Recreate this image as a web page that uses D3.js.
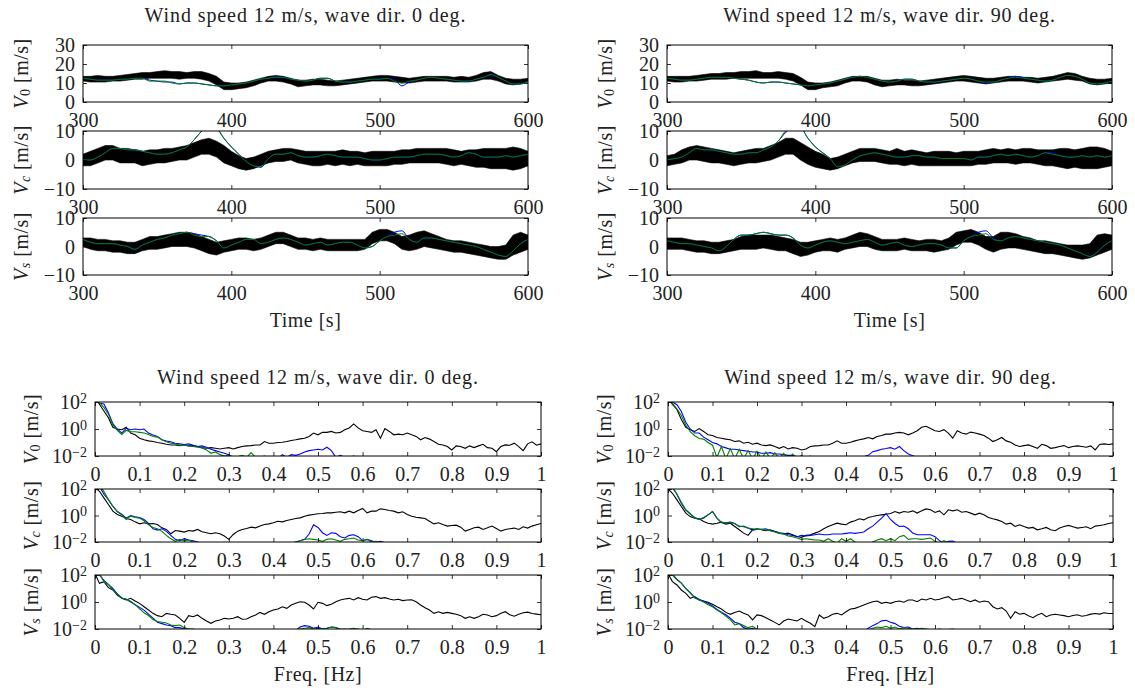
<!DOCTYPE html>
<html>
<head>
<meta charset="utf-8">
<script src="https://cdn.jsdelivr.net/npm/d3@7"></script>
<style>
  body { margin: 0; background: #fff; }
  svg text { font-family: "Liberation Serif", "DejaVu Serif", serif; fill: #222; }
</style>
</head>
<body>
<svg id="chart" width="1135" height="688"></svg>
<script>
// ---- data ----
// time series sampled every 5 s from 300 s to 600 s
const tStart = 300, tStep = 5;
const timeTicks = [300, 400, 500, 600];
const v0Ticks = [0, 10, 20, 30];
const vcTicks = [-10, 0, 10];

// wave dir 0 deg, V0 (black band = envelope of the measured signal)
const v0Dir0Lo = [11,10.5,10.5,10.5,11,11,11.5,12,12,12.5, 12.5,12.5,12.5,12,12.5,12.5,12,11,9,6.5, 6.5,7,7.5,8.5,10,11,11,10.5,9.5,8, 8.5,9,9,8.5,8.5,9,9.5,10,10.5,11, 11,11,10.5,10,10,10.5,11,11,11,11, 10.5,10.5,10.5,11,12,12,11,9.5,9,9.5, 10.5];
const v0Dir0Hi = [13.5,13.5,14,13.5,13.5,14,14.5,15,15.5,15.5, 16,16.5,16,16,15.5,16,16,15,13.5,10.5, 10,10,10.5,11.5,12.5,13.5,14,13.5,12.5,11.5, 11.5,12,12,11.5,11,11.5,12,12.5,13,13.5, 14,14,13.5,13,12.5,13,13.5,13.5,13.5,13.5, 13,13.5,13,14,15.5,16,14,12.5,12,12, 12.5];
const v0Dir0Blue = [12.5,12,11.5,11.5,11.5,12,12,12.5,12.5,11.5, 11,10.5,10.5,9.5,10,10,9.5,9,8.5,8.5, 9,9.5,10,11,12,12.5,13.5,13,12,11.5, 11,11.5,12.5,12.5,11,10.5,10.5,11,11.5,12, 12,12.5,11.5,8.5,10.5,11.5,12.5,13,12.5,12, 11.5,11,11,12,13,14,13,11,9.5,9.5, 11];
const v0Dir0Green = [12.5,12,11.5,11.5,11.5,12,12,12.5,12.5,11, 11,11,10,9.5,10,10,9.5,9,8.5,8.5, 9,9.5,10,11,12,12.5,13,13,12,11.5, 11,11.5,12.5,12.5,11,10.5,10.5,11,11.5,12, 12,12.5,11,10,11,11.5,12.5,13,12.5,12, 11.5,11,11,12,13,14.5,13,11,9.5,9.5, 11];

// wave dir 0 deg, Vc
const vcDir0Lo = [-2,-2,-1,0,0,-1,-1,-1,-2,-1.5, -1,-1,-0.5,0,0,1,2,2,1,-1, -2,-3,-3.5,-3,-2,-1,-0.5,-0.5,0,-1, -1.5,-2,-2,-1.5,-2,-1.5,-2,-1.5,-2,-2, -2,-2,-1.5,-1.5,-1,-1,-1,-1,-1,-1.5, -2,-1.5,-2,-2.5,-2.5,-3,-3,-3,-3.5,-3, -2];
const vcDir0Hi = [2,3,4,5,5,4,4,3.5,3,3.5, 3.5,4,4,4.5,5,6,7,7.5,6.5,5, 3,1.5,0.5,1,2,3,3.5,4,4,3.5, 3,3,3,3,3,3.5,3,3,2.5,3, 3,3,3,3.5,3.5,4,4,4,4,4, 3.5,3,3.5,3.5,4,4,4,4,4.5,4, 3];
const vcDir0Blue = [0,0,1,2.5,4,4,3.5,3.5,3,2.5, 2,2,2.5,3.5,4.5,7,10,12,11,7.5, 4.5,2,-0.5,-2,-2.5,0.5,2,2,2.5,1.5, 1,1,1.5,2,1.5,1,1,1,0.5,0, 0,0.5,1,1,1,1.5,2,2,2,1.5, 1,1.5,2.5,2,1,1,1,1.5,1,1.5, 2];
const vcDir0Green = [0,0,1,2.5,4,4,3.5,3.5,3,2.5, 2,2,2.5,3.5,4.5,7,10,12,11,7.5, 4.5,2,-0.5,-2,-2.3,0.5,2,2,2.5,1.5, 1,1,1.5,2,1.5,1,1,1,0.5,0, 0,0.5,1,1,1,1.5,2,2,2,1.5, 1,1.5,2.5,2,1,1,1,1.5,1,1.5, 2];

// wave dir 0 deg, Vs
const vsDir0Lo = [0,-1,-1.5,-1.5,-2,-2,-2.5,-2.5,-1.5,-1, -1,-0.5,0,0,0,-0.5,-1.5,-2.5,-3,-2, -1.5,-1,-1,-1.5,-1,0,1,1,0,-1, -1,-1.5,-1,-1.5,-1.5,-1.5,-1.5,-1.5,-1,1, 2,2,1,-1,-1.5,-1,0,-0.5,-1,-1.5, -2,-2,-2.5,-3,-3.5,-4,-4.5,-4.5,-3,-2, -1];
const vsDir0Hi = [3,3,2.5,2.5,2,2,1.5,1.5,2.5,3.5, 3.5,4,4.5,5,5,4.5,3.5,2.5,1.5,2, 2.5,3,3,2.5,3,4,5,5,4,3, 3,2.5,3,2.5,2.5,2.5,2.5,2.5,2.5,5, 6,6,5,3.5,4,5,5.5,4.5,3.5,2.5, 2,2,1.5,1,0.5,0,0,0.5,4,5, 4];
const vsDir0Blue = [2.5,1.5,1,1,1,0.5,0,-1,0.5,1.5, 2.5,3,4,4.5,5,4.5,4,3.5,2,-0.5, 0.5,1.5,2.5,2.5,1,1.5,2.5,3,2.5,1.5, 0.5,1,1.5,0.5,1,1.5,1.5,0.5,-0.5,0, 2,3.5,5,5.5,2.5,1.5,3,3,2.5,2, 1.5,1,0.5,0,-1,-2,-3,-3.5,-1.5,1, 2.5];
const vsDir0Green = [2.5,1.5,1,1,1,0.5,0,-1,0.5,1.5, 2.5,3,4,4.5,5,4,3.5,3.5,2,-0.5, 0.5,1.5,2.5,2.5,1,1.5,2.5,3,2.5,1.5, 0.5,1,1.5,0.5,1,1.5,1.5,0.5,-0.5,0, 2,3.5,4,4.5,2.5,1.5,3,3,2.5,2, 1.5,1,0.5,0,-1,-2,-3,-3.5,-1.5,1, 2.5];

// wave dir 90 deg, V0
const v0Dir90Lo = [11,10.5,10.5,11,11,11.5,12,12,12,12.5, 12.5,12.5,12.5,12.5,12.5,12.5,12,11,9,6.5, 6.5,7.5,8,8.5,10,11,11,10.5,9,8, 8.5,9,9,8.5,8.5,9,9.5,10,10.5,11, 11,10.5,10,9.5,10,10.5,11,11,11,10.5, 10,10.5,11,11.5,12,11.5,11,9.5,9,9.5, 10];
const v0Dir90Hi = [13.5,13.5,13.5,13.5,14,14.5,15,15,15.5,15.5, 16,16,16.5,15.5,15.5,16,15.5,15,13,10.5, 10,10,10.5,11.5,12.5,13.5,13.5,13.5,12.5,11.5, 11.5,12,11.5,11.5,11,11.5,12,12.5,13,13.5, 14,13.5,13,12.5,12.5,13,13.5,13.5,13,13, 12.5,13,13.5,14.5,15.5,15,13.5,12.5,12,12, 12.5];
const v0Dir90Blue = [12.5,12,11.5,11.5,12,12.5,13,13,13,12.5, 12,11.5,10.5,10,10.5,10.5,10,9.5,9,8.5, 9,9.5,10,11,12,13,13.5,13,12,11, 10.5,11,12,12,11,10.5,10.5,11,11.5,12, 12.5,12,11,10,10.5,11.5,12.5,13.5,13,12, 11.5,11,11.5,13,14,13.5,12,10,9.5,10, 11];
const v0Dir90Green = [12.5,12,11.5,11.5,12,12.5,13,13,13,12.5, 12,11.5,10.5,10,10.5,10.5,10,9.5,9,8.5, 9,9.5,10,11,12,13,13.5,13,12,11, 10.5,11,12,12,11,10.5,10.5,11,11.5,12, 12.5,12,11,10.5,10.5,11.5,12.5,13,12.5,12, 11.5,11,11.5,13,14,13.5,12,10,9.5,10, 11];

// wave dir 90 deg, Vc
const vcDir90Lo = [-2,-1.5,-1,0,0,-0.5,-1,-1,-1.5,-2, -1.5,-1,-1,-0.5,0,1,2,2,0,-1.5, -2.5,-3,-3.5,-3,-2,-1,-0.5,-0.5,-0.5,-1, -1.5,-1.5,-2,-1.5,-2,-2,-2,-2,-2,-2, -2,-2,-1.5,-1.5,-1,-1,-1,-1.5,-1,-1, -1.5,-2,-2,-2.5,-3,-2.5,-3,-3,-3,-2.5, -2];
const vcDir90Hi = [1.5,2,3.5,4.5,5,4.5,4,3.5,3,2.5, 3,3.5,4,4,5,6,7.5,7.5,6,4.5, 3,2,0.5,1,2,3,4,4,4,3.5, 3,4,3,3.5,3,2.5,3,3,3,2.5, 3,3,3,3.5,4,3.5,4,3.5,4,4, 3.5,3.5,3.5,4,4,3.5,4,4.5,4.5,4, 3];
const vcDir90Blue = [0,0.5,1,2.5,4,3.5,3.5,3,2.5,2, 2,2.5,2.5,3.5,4.5,6.5,9.5,11,11,7.5, 4.5,2.5,0.5,-2.3,-1.7,0,1.4,2,2.5,2, 1.5,1,1,1.5,1.5,1,1,0.5,0.5,0.5, 0.5,0,1,1,1.5,2,1.5,2,1.5,1, 1.5,2.5,2.5,1.5,1,1,1.5,1,1.5,1, 1.5];
const vcDir90Green = [0,0.5,1,2.5,4,3.5,3.5,3,2.5,2, 2,2.5,2.5,3.5,4.5,6.5,10,11,11,7.5, 4.5,2.5,0.5,-2.3,-1.7,0,1.4,2,2.5,2, 1.5,1,1,1.5,1.5,1,1,0.5,0.5,0.5, 0.5,0,1,1,1.5,2,1.5,2,1.5,1, 1.5,2.5,2,1.5,1,1,1.5,1,1.5,1, 1.5];

// wave dir 90 deg, Vs
const vsDir90Lo = [-1,-1,-1,-1.5,-2,-2,-2.5,-2.5,-2,-1.5, -1,-1,-1,-0.5,-1,-1.5,-1.5,-2.5,-3.5,-3, -2,-1.5,-1.5,-2,-1,-0.5,0,0,-1,-1.5, -1.5,-1.5,-1,-1.5,-1.5,-1.5,-2,-1.5,-1,0.5, 1.5,1.5,0.5,-1,-2,-1,-0.5,-0.5,-1,-1.5, -2,-2.5,-2.5,-3,-3.5,-4,-4.5,-4,-3,-2, -1];
const vsDir90Hi = [3,3,3,2.5,2,2,1.5,1.5,2,2.5, 3.5,4,4,4,4,3.5,3,2.5,1.5,1.5, 2,2.5,3,2.5,3,4,5,4.5,3.5,2.5, 2.5,2.5,3,2.5,2,2.5,2.5,2,3,5, 5.5,6,5,3.5,3.5,5,5,4.5,3.5,3, 2,2,1.5,1,0.5,0.5,0.5,1,4,4.5, 4];
const vsDir90Blue = [2,1.5,1,1,0.5,0,-0.5,-1.5,0,2.5, 4,4,4.5,5,4.5,4,4,3,0.5,-0.5, 0.5,1.5,2,1.5,1,1.5,2,2.5,1.5,0.5, 1,1.5,0.5,0,0.5,1,1,0.5,-0.5,-0.5, 2,3.5,5,5.5,3,2,3,3.5,3,2.5, 2,1.5,1,0.5,-0.5,-1.5,-2.5,-3.5,-2,0.5, 2];
const vsDir90Green = [2,1.5,1,1,0.5,0,-0.5,-1.5,0,2.5, 4,4,4.5,5,4.5,4,4,3,0.5,-0.5, 0.5,1.5,2,1.5,1,1.5,2,2.5,1.5,0.5, 1,1.5,0.5,0,0.5,1,1,0.5,-0.5,-0.5, 2,3.5,4,4.5,2.5,2,3,3.5,3,2.5, 2,1.5,1,0.5,-0.5,-1.5,-2.5,-3.5,-2,0.5, 2];

// spectra: log10 of amplitude, sampled every 0.01 Hz from 0 Hz
const fStep = 0.01;
const freqTicks = [0, 0.1, 0.2, 0.3, 0.4, 0.5, 0.6, 0.7, 0.8, 0.9, 1];
const specTicks = [1e-2, 1, 1e2];

const specV0Dir0Black = [2.3,1.83,1.33,0.83,0.13,0,-0.05,0.13,-0.3,-0.43, -0.68,-0.8,-0.88,-0.93,-1.0,-1.05,-1.13,-1.18,-1.18,-1.23, -1.18,-1.25,-1.23,-1.3,-1.38,-1.43,-1.38,-1.43,-1.48,-1.43, -1.38,-1.48,-1.38,-1.3,-1.25,-1.23,-1.18,-1.18,-0.93,-1.05, -1.05,-1.0,-0.98,-0.93,-0.85,-0.8,-0.73,-0.68,-0.55,-0.3, -0.43,-0.25,-0.25,-0.18,-0.3,-0.25,-0.05,0.08,0.38,0.08, -0.13,-0.18,-0.25,-0.05,-0.68,0.03,-0.18,-0.43,-0.38,-0.43, -0.3,-0.43,-0.55,-0.8,-0.63,-0.75,-0.93,-1.13,-1.18,-1.3, -1.55,-1.25,-1.3,-1.43,-1.25,-1.38,-1.25,-1.13,-1.38,-1.43, -1.68,-1.3,-1.18,-1.2,-1.05,-1.3,-1.6,-1.1,-0.95,-1.2, -1.1];
const specV0Dir0Blue = [2.3,1.9,1.85,1.2,0.4,0,-0.3,0.05,-0.05,0, -0.05,0,-0.3,-0.45,-0.55,-0.8,-0.9,-0.95,-1.05,-1.1, -1.15,-1.1,-1.2,-1.3,-1.25,-1.35,-1.5,-1.6,-1.7,-1.8, -1.9,-2.1,-2.2,-2.1,-2.2,-2.05,-2.2,-2.1,-2.0,-2.2, -2.1,-2.2,-1.9,-2.1,-1.9,-1.95,-1.85,-1.7,-1.6,-1.55, -1.5,-1.55,-1.35,-1.6,-2.1,-1.95,-2.1,-2.2,-2.0,-2.3, -2.3,-2.3,-2.3,-2.3,-2.3,-2.3];
const specV0Dir0Green = [2.3,1.95,1.6,1.1,0.3,-0.1,-0.4,-0.1,-0.2,-0.2, -0.25,-0.3,-0.4,-0.55,-0.6,-0.8,-0.95,-1.05,-1.1,-1.2, -1.2,-1.25,-1.3,-1.35,-1.4,-1.55,-1.8,-1.7,-1.9,-2.0, -1.95,-2.1,-2.05,-1.95,-2.1,-1.75,-2.1,-2.2,-2.3,-2.3, -2.3,-2.3,-2.3,-2.3,-2.3,-2.3,-2.3,-2.2,-2.1,-2.15, -2.2,-2.3,-2.3,-2.3,-2.3,-2.3,-2.3,-2.3,-2.3,-2.3, -2.3,-2.3,-2.3,-2.3,-2.3,-2.3];

const specVcDir0Black = [2.1,1.83,1.33,0.83,0.33,0.08,-0.05,-0.23,-0.3,-0.48, -0.63,-0.55,-0.63,-0.6,-0.68,-0.93,-1.05,-1.38,-1.13,-1.18, -1.25,-1.13,-1.18,-1.05,-1.23,-1.3,-1.38,-1.3,-1.38,-1.55, -1.8,-1.43,-1.18,-1.05,-0.98,-0.88,-0.93,-0.8,-0.68,-0.63, -0.55,-0.43,-0.48,-0.38,-0.3,-0.23,-0.18,-0.05,0.03,0.08, 0.13,0.15,0.2,0.2,0.25,0.28,0.2,0.33,0.2,0.38, 0.53,0.2,0.33,0.33,0.5,0.45,0.38,0.33,0.2,0.28, 0.08,-0.05,-0.13,-0.18,-0.23,-0.43,-0.63,-0.55,-0.68,-0.8, -0.75,-0.73,-0.88,-1.18,-1.05,-0.93,-0.88,-1.05,-0.93,-0.8, -0.98,-1.18,-1.05,-1.0,-0.95,-1.05,-0.85,-0.95,-0.8,-0.7, -0.6];
const specVcDir0Blue = [2.3,2.2,1.6,1.2,0.7,0.3,0.1,-0.2,0,-0.1, -0.15,-0.3,-0.6,-1.0,-1.1,-1.0,-1.2,-1.5,-1.8,-1.9, -1.75,-1.85,-1.9,-2.0,-2.1,-2.2,-2.3,-2.3,-2.3,-2.3, -2.3,-2.3,-2.3,-2.3,-2.3,-2.3,-2.3,-2.3,-2.3,-2.3, -2.3,-2.3,-2.2,-2.05,-2.1,-2.0,-1.9,-1.8,-1.4,-0.7, -0.9,-1.3,-1.5,-1.3,-1.35,-1.6,-1.7,-1.5,-1.45,-1.6, -1.9,-1.8,-1.9,-2.0,-1.95,-2.05];
const specVcDir0Green = [2.3,2.3,1.8,1.2,0.7,0.3,0.05,-0.3,-0.05,-0.15, -0.2,-0.4,-0.7,-0.9,-1.0,-1.2,-1.5,-1.75,-1.95,-1.8, -1.9,-1.85,-2.0,-2.1,-2.3,-2.3,-2.3,-2.3,-2.3,-2.3, -2.3,-2.3,-2.3,-2.3,-2.3,-2.3,-2.3,-2.3,-2.3,-2.3, -2.3,-2.3,-2.3,-2.3,-2.2,-2.0,-1.9,-1.8,-1.75,-1.8, -1.85,-1.95,-1.8,-1.75,-1.85,-1.95,-1.8,-1.75,-1.7,-1.85, -1.9,-1.8,-2.0,-1.95,-2.05,-2.1];

const specVsDir0Black = [2.1,1.38,1.5,1.06,0.89,0.52,0.27,0.15,0.27,0.07, -0.1,-0.35,-0.59,-0.84,-1.01,-1.09,-0.84,-0.91,-0.96,-1.21, -1.51,-1.01,-1.09,-0.96,-1.21,-1.41,-1.58,-1.41,-1.33,-1.21, -1.26,-1.21,-1.09,-1.28,-1.26,-1.09,-0.96,-0.77,-0.91,-0.72, -0.59,-0.52,-0.35,-0.47,-0.22,-0.1,0.02,-0.02,-0.22,-0.52, -0.02,-0.1,-0.27,-0.17,0.02,0.15,0.22,0.27,0.15,0.32, 0.2,0.15,0.35,0.4,0.27,0.32,0.22,0.15,0.2,0.1, 0.15,0.17,0.02,-0.22,-0.42,-0.59,-0.84,-0.72,-0.84,-0.77, -0.84,-0.91,-1.01,-1.21,-1.09,-1.21,-1.09,-0.91,-0.96,-1.09, -1.01,-0.84,-0.72,-0.95,-1.05,-0.9,-0.8,-0.75,-0.85,-0.9, -0.95];
const specVsDir0Blue = [2.3,2.0,1.6,1.3,1.0,0.6,0.3,0.2,0,-0.2, -0.4,-0.6,-0.9,-1.2,-1.5,-1.6,-1.7,-1.75,-1.9,-1.9, -2.0,-2.1,-2.2,-2.3,-2.3,-2.3,-2.3,-2.3,-2.3,-2.3, -2.3,-2.3,-2.3,-2.3,-2.3,-2.3,-2.3,-2.3,-2.3,-2.3, -2.3,-2.3,-2.3,-2.3,-2.2,-2.1,-1.85,-1.75,-1.8,-1.95, -1.85,-2.0,-1.95,-1.85,-1.9,-2.05,-2.0,-2.1,-2.0,-2.1, -2.2,-2.3,-2.3,-2.3,-2.3,-2.3];
const specVsDir0Green = [2.3,2.1,1.5,1.3,0.9,0.6,0.3,0.2,0.05,-0.2, -0.5,-0.8,-1.0,-1.3,-1.45,-1.5,-1.55,-1.7,-1.75,-1.7, -1.9,-2.0,-2.0,-2.1,-2.05,-2.1,-2.3,-2.3,-2.3,-2.3, -2.3,-2.3,-2.3,-2.3,-2.3,-2.3,-2.3,-2.3,-2.3,-2.3, -2.3,-2.3,-2.3,-2.3,-2.3,-2.1,-2.0,-1.95,-1.9,-2.0, -1.95,-2.0,-1.95,-1.85,-1.9,-2.0,-2.05,-2.0,-1.95,-2.0, -2.1,-1.95,-2.05,-2.1,-2.3,-2.3];

const specV0Dir90Black = [2.3,1.83,1.45,0.7,0.13,-0.05,-0.18,0.03,-0.18,-0.43, -0.48,-0.63,-0.68,-0.75,-0.8,-0.93,-0.88,-1.05,-0.98,-1.13, -1.05,-1.18,-1.23,-1.18,-1.3,-1.43,-1.3,-1.48,-1.38,-1.43, -1.55,-1.48,-1.3,-1.25,-1.23,-1.18,-1.18,-1.05,-0.88,-1.05, -1.05,-0.98,-0.88,-0.8,-0.73,-0.63,-0.73,-0.55,-0.48,-0.38, -0.38,-0.3,-0.25,-0.3,-0.43,-0.3,-0.13,0.13,0.2,0.03, -0.13,-0.18,-0.05,-0.3,-0.68,-0.13,-0.3,-0.38,-0.23,-0.3, -0.38,-0.48,-0.68,-0.93,-0.8,-0.63,-0.88,-0.98,-1.18,-1.3, -1.23,-1.18,-1.3,-1.43,-1.13,-1.23,-1.43,-1.38,-1.3,-1.23, -1.38,-1.3,-1.25,-1.3,-1.35,-1.25,-1.55,-1.15,-1.1,-1.15, -1.1];
const specV0Dir90Blue = [2.3,2.0,1.8,1.3,0.5,0,-0.3,-0.3,-0.6,-0.8, -1.0,-1.1,-1.3,-1.4,-1.5,-1.5,-1.55,-1.6,-1.65,-1.7, -1.7,-1.8,-1.8,-1.75,-1.85,-1.85,-1.9,-1.95,-1.95,-2.05, -2.1,-2.2,-2.3,-2.3,-2.3,-2.3,-2.3,-2.3,-2.3,-2.3, -2.3,-2.3,-2.3,-2.2,-2.05,-1.95,-1.68,-1.6,-1.5,-1.45, -1.38,-1.5,-1.3,-1.6,-1.85,-1.98,-2.1,-2.05,-2.1,-2.0, -2.2,-2.3,-2.3,-2.3,-2.3,-2.3];
const specV0Dir90Green = [2.3,1.9,1.5,1.0,0.3,-0.2,-0.5,-0.7,-0.75,-1.0, -1.2,-2.1,-1.3,-2.2,-1.45,-2.2,-1.5,-2.2,-1.6,-2.2, -1.65,-2.2,-1.7,-2.2,-1.75,-2.2,-1.8,-2.2,-1.85,-2.2, -1.95,-2.2,-2.0,-2.3,-2.05,-2.3,-2.3,-2.3,-2.3,-2.3, -2.3,-2.3,-2.3,-2.3,-2.3,-2.3,-2.3,-2.3,-2.3,-2.3, -2.3,-2.3,-2.3,-2.3,-2.3,-2.3,-2.3,-2.3,-2.3,-2.3, -2.3,-2.3,-2.3,-2.3,-2.3,-2.3];

const specVcDir90Black = [2.0,1.68,1.18,0.68,0.18,-0.08,-0.2,-0.25,-0.45,-0.58, -0.65,-0.58,-0.5,-0.65,-0.58,-0.83,-1.08,-1.33,-1.5,-1.08, -1.0,-1.08,-1.15,-1.08,-1.2,-1.33,-1.4,-1.33,-1.45,-1.58, -1.65,-1.5,-1.45,-1.33,-1.2,-1.0,-0.83,-0.7,-0.58,-0.65, -0.7,-0.5,-0.4,-0.25,-0.33,-0.15,-0.08,0.0,0.05,0.1, 0.15,0.3,0.18,0.3,0.25,0.35,0.18,0.35,0.5,0.43, 0.23,0.35,0.05,0.43,0.35,0.43,0.25,0.3,0.18,0.05, 0.18,0.05,-0.15,-0.25,-0.33,-0.45,-0.65,-0.58,-0.83,-0.7, -0.83,-0.95,-0.9,-1.08,-1.0,-0.9,-1.08,-1.15,-0.95,-0.83, -0.75,-0.85,-0.95,-0.9,-0.85,-1.0,-0.8,-0.75,-0.7,-0.6, -0.55];
const specVcDir90Blue = [2.3,2.1,1.6,0.9,0.4,0.1,-0.15,-0.3,-0.2,0.05, 0.3,-0.2,-0.55,-0.55,-0.5,-0.6,-0.85,-0.8,-0.95,-1.1, -1.05,-1.05,-1.0,-1.15,-1.2,-1.3,-1.35,-1.45,-1.5,-1.6, -1.5,-1.55,-1.5,-1.45,-1.4,-1.45,-1.45,-1.4,-1.4,-1.4, -1.35,-1.3,-1.35,-1.3,-1.25,-1.0,-0.8,-0.5,-0.2,0.15, -0.3,-0.6,-0.83,-0.8,-1.0,-1.33,-1.45,-1.45,-1.45,-1.45, -1.6,-1.9,-2.1,-1.95,-1.93,-2.1];
const specVcDir90Green = [2.3,2.2,1.6,1.0,0.45,0.15,-0.2,-0.3,-0.15,0.05, 0.3,-0.2,-0.5,-0.55,-0.55,-0.6,-0.8,-0.85,-0.95,-1.0, -1.05,-1.05,-1.1,-1.15,-1.25,-1.35,-1.4,-1.55,-1.6,-1.7, -1.8,-1.75,-1.8,-1.85,-1.85,-1.95,-1.75,-1.95,-2.1,-1.75, -1.95,-1.75,-2.0,-2.3,-2.3,-2.3,-2.0,-1.85,-1.75,-1.9, -1.75,-1.9,-1.6,-1.5,-1.8,-1.75,-1.75,-1.8,-1.75,-1.7, -1.95,-2.1,-1.9,-2.05,-2.1,-2.3];

const specVsDir90Black = [2.1,1.51,1.26,0.89,0.64,0.27,0.4,0.15,0.07,-0.02, -0.17,-0.35,-0.52,-0.77,-0.91,-0.77,-0.67,-0.84,-0.96,-1.33, -0.96,-1.01,-1.16,-1.33,-1.51,-1.7,-1.41,-1.26,-1.33,-1.41, -1.21,-1.41,-1.58,-1.83,-0.96,-1.21,-1.09,-0.91,-0.84,-0.96, -0.72,-0.52,-0.47,-0.35,-0.22,-0.1,0.02,0.07,-0.1,-0.02, -0.1,0.02,0.07,-0.02,0.15,0.15,0.02,0.22,0.15,0.27, 0.15,0.2,0.32,0.4,0.15,0.2,0.27,0.15,0.02,0.15, -0.02,0.07,0.02,-0.35,-0.52,-0.42,-0.67,-1.21,-0.72,-0.91, -0.84,-1.01,-1.16,-0.96,-0.84,-1.09,-0.96,-0.91,-0.96,-1.01, -1.09,-1.0,-0.95,-1.05,-1.0,-0.9,-0.85,-0.9,-0.8,-0.85, -0.85];
const specVsDir90Blue = [2.3,2.05,1.7,1.4,1.0,0.7,0.35,0.2,0.05,-0.1, -0.3,-0.55,-0.75,-0.95,-1.2,-1.5,-1.6,-1.9,-2.0,-1.95, -2.1,-2.05,-2.2,-2.3,-2.3,-2.3,-2.3,-2.3,-2.3,-2.3, -2.3,-2.3,-2.3,-2.3,-2.3,-2.3,-2.3,-2.3,-2.3,-2.3, -2.3,-2.3,-2.3,-2.3,-2.2,-1.95,-1.75,-1.6,-1.4,-1.35, -1.5,-1.6,-1.8,-1.9,-1.85,-2.0,-1.95,-2.0,-2.1,-2.2, -2.3,-2.3,-2.3,-2.3,-2.3,-2.3];
const specVsDir90Green = [2.3,2.0,1.65,1.4,1.0,0.65,0.3,0.15,0.0,-0.2, -0.35,-0.6,-0.8,-1.05,-1.3,-1.7,-1.6,-1.75,-1.9,-1.8, -2.0,-2.1,-2.3,-2.3,-2.3,-2.3,-2.3,-2.3,-2.3,-2.3, -2.3,-2.3,-2.3,-2.3,-2.3,-2.3,-2.3,-2.3,-2.3,-2.3, -2.3,-2.3,-2.3,-2.3,-2.3,-2.1,-1.95,-1.85,-1.9,-1.8, -1.95,-1.85,-2.0,-1.9,-1.95,-2.05,-2.0,-1.95,-2.0,-2.05, -2.1,-2.0,-2.1,-2.05,-2.0,-2.1];

// ---- layout ----
const svg = d3.select("#chart");
const tickFont = 20, labelFont = 20;
const blue = "#0000ff", green = "#008000";
let clipCount = 0;

const groups = [
  { kind: "time", title: "Wind speed 12 m/s, wave dir. 0 deg.", x0: 83, x1: 528, ylabX: 21, xlabY: 327,
    rows: [[45, 102], [131, 189], [218, 275]],
    panels: [
      { sub: "0", lo: v0Dir0Lo, hi: v0Dir0Hi, blue: v0Dir0Blue, green: v0Dir0Green, domain: [0, 30], ticks: v0Ticks },
      { sub: "c", lo: vcDir0Lo, hi: vcDir0Hi, blue: vcDir0Blue, green: vcDir0Green, domain: [-10, 10], ticks: vcTicks },
      { sub: "s", lo: vsDir0Lo, hi: vsDir0Hi, blue: vsDir0Blue, green: vsDir0Green, domain: [-10, 10], ticks: vcTicks }
    ] },
  { kind: "time", title: "Wind speed 12 m/s, wave dir. 90 deg.", x0: 667, x1: 1112, ylabX: 605, xlabY: 327,
    rows: [[45, 102], [131, 189], [218, 275]],
    panels: [
      { sub: "0", lo: v0Dir90Lo, hi: v0Dir90Hi, blue: v0Dir90Blue, green: v0Dir90Green, domain: [0, 30], ticks: v0Ticks },
      { sub: "c", lo: vcDir90Lo, hi: vcDir90Hi, blue: vcDir90Blue, green: vcDir90Green, domain: [-10, 10], ticks: vcTicks },
      { sub: "s", lo: vsDir90Lo, hi: vsDir90Hi, blue: vsDir90Blue, green: vsDir90Green, domain: [-10, 10], ticks: vcTicks }
    ] },
  { kind: "spec", title: "Wind speed 12 m/s, wave dir. 0 deg.", x0: 95, x1: 541, ylabX: 31, xlabY: 681,
    rows: [[402, 456], [489, 542], [575, 629]],
    panels: [
      { sub: "0", black: specV0Dir0Black, blue: specV0Dir0Blue, green: specV0Dir0Green },
      { sub: "c", black: specVcDir0Black, blue: specVcDir0Blue, green: specVcDir0Green },
      { sub: "s", black: specVsDir0Black, blue: specVsDir0Blue, green: specVsDir0Green }
    ] },
  { kind: "spec", title: "Wind speed 12 m/s, wave dir. 90 deg.", x0: 668, x1: 1113, ylabX: 604, xlabY: 681,
    rows: [[402, 456], [489, 542], [575, 629]],
    panels: [
      { sub: "0", black: specV0Dir90Black, blue: specV0Dir90Blue, green: specV0Dir90Green },
      { sub: "c", black: specVcDir90Black, blue: specVcDir90Blue, green: specVcDir90Green },
      { sub: "s", black: specVsDir90Black, blue: specVsDir90Blue, green: specVsDir90Green }
    ] }
];

function clipFor(x0, x1, y0, y1) {
  const id = "clip" + (clipCount++);
  svg.append("clipPath").attr("id", id)
    .append("rect").attr("x", x0).attr("y", y0).attr("width", x1 - x0).attr("height", y1 - y0);
  return `url(#${id})`;
}

// inward ticks on all four sides, labels only on left and bottom
function drawAxes(x, y, x0, x1, y0, y1, xTicks, xFmt, yTicks, yFmt) {
  const gb = svg.append("g").attr("transform", `translate(0,${y1})`)
    .call(d3.axisBottom(x).tickValues(xTicks).tickSize(-4).tickFormat(xFmt));
  gb.selectAll("text").attr("y", 25).attr("dy", null).attr("font-size", tickFont);
  svg.append("g").attr("transform", `translate(0,${y0})`)
    .call(d3.axisTop(x).tickValues(xTicks).tickSize(-4).tickFormat(""));
  const gl = svg.append("g").attr("transform", `translate(${x0},0)`)
    .call(d3.axisLeft(y).tickValues(yTicks).tickSize(-4).tickPadding(8).tickFormat(yFmt));
  gl.selectAll("text").attr("font-size", tickFont).attr("dy", "0.33em");
  svg.append("g").attr("transform", `translate(${x1},0)`)
    .call(d3.axisRight(y).tickValues(yTicks).tickSize(-4).tickFormat(""));
  svg.selectAll(".domain").remove();
  svg.selectAll(".tick line").attr("stroke", "#000").attr("stroke-width", 0.8);
  svg.append("rect").attr("x", x0).attr("y", y0).attr("width", x1 - x0).attr("height", y1 - y0)
    .attr("fill", "none").attr("stroke", "#000").attr("stroke-width", 1);
  return gl;
}

function yLabel(x, yMid, sub) {
  const t = svg.append("text")
    .attr("transform", `translate(${x},${yMid}) rotate(-90)`)
    .attr("text-anchor", "middle").attr("dominant-baseline", "central")
    .attr("font-size", 20).attr("letter-spacing", 0.5);
  t.append("tspan").attr("font-style", "italic").text("V");
  t.append("tspan").attr("dy", 4).attr("font-size", 14)
    .attr("font-style", sub === "0" ? "normal" : "italic").text(sub);
  t.append("tspan").attr("dy", -4).text(" [m/s]");
}

groups.forEach(gr => {
  svg.append("text").attr("x", (gr.x0 + gr.x1) / 2).attr("y", gr.rows[0][0] - (gr.kind === "time" ? 23 : 18))
    .attr("text-anchor", "middle").attr("font-size", labelFont).attr("letter-spacing", 0.9)
    .text(gr.title);

  gr.panels.forEach((p, i) => {
    const [y0, y1] = gr.rows[i];
    const clip = clipFor(gr.x0, gr.x1, y0, y1);
    const g = svg.append("g").attr("clip-path", clip);

    if (gr.kind === "time") {
      const x = d3.scaleLinear().domain([300, 600]).range([gr.x0, gr.x1]);
      const y = d3.scaleLinear().domain(p.domain).range([y1, y0]);
      const band = p.lo.map((v, k) => ({ t: tStart + k * tStep, lo: v, hi: p.hi[k] }));
      g.append("path").datum(band)
        .attr("d", d3.area().x(d => x(d.t)).y0(d => y(d.lo)).y1(d => y(d.hi)))
        .attr("fill", "#000").attr("stroke", "#000").attr("stroke-width", 0.6);
      const line = d3.line().x(d => x(d.t)).y(d => y(d.v)).curve(d3.curveMonotoneX);
      [[p.blue, blue], [p.green, green]].forEach(([arr, c]) => {
        g.append("path").datum(arr.map((v, k) => ({ t: tStart + k * tStep, v })))
          .attr("d", line).attr("fill", "none").attr("stroke", c).attr("stroke-width", 1);
      });
      drawAxes(x, y, gr.x0, gr.x1, y0, y1, timeTicks, d3.format("d"), p.ticks, d3.format("d"));
    } else {
      const x = d3.scaleLinear().domain([0, 1]).range([gr.x0, gr.x1]);
      const y = d3.scaleLog().domain([1e-2, 1e2]).range([y1, y0]);
      const line = d3.line().x(d => x(d.f)).y(d => y(d.v));
      [[p.black, "#000"], [p.blue, blue], [p.green, green]].forEach(([arr, c]) => {
        g.append("path").datum(arr.map((v, k) => ({ f: k * fStep, v: Math.pow(10, v) })))
          .attr("d", line).attr("fill", "none").attr("stroke", c).attr("stroke-width", 1.1);
      });
      const gl = drawAxes(x, y, gr.x0, gr.x1, y0, y1, freqTicks, d => d3.format("")(+d.toFixed(1)), specTicks, () => "10");
      gl.selectAll("text").each(function (d) {
        const e = Math.round(Math.log10(d));
        d3.select(this).append("tspan").attr("dy", "-0.45em").attr("font-size", 14)
          .text(e < 0 ? "\u2212" + (-e) : String(e));
      });
    }
    yLabel(gr.ylabX, (y0 + y1) / 2, p.sub);
  });

  svg.append("text").attr("x", (gr.x0 + gr.x1) / 2).attr("y", gr.xlabY)
    .attr("text-anchor", "middle").attr("font-size", labelFont).attr("letter-spacing", 0.5)
    .text(gr.kind === "time" ? "Time [s]" : "Freq. [Hz]");
});
</script>
</body>
</html>
